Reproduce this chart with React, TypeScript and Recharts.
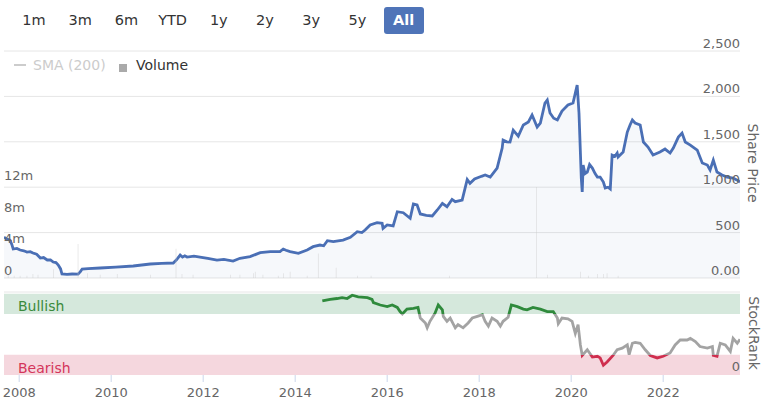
import { ComposedChart, Area, Bar, Line, XAxis, YAxis, CartesianGrid, ReferenceArea, ReferenceLine } from 'recharts';

const FONT = '"DejaVu Sans", Verdana, sans-serif';

// share price (pence), dates as decimal years
const priceDates = [
  2007.67, 2007.72, 2007.8, 2007.84, 2007.87, 2007.95, 2008.02, 2008.1, 2008.17, 2008.24, 2008.3, 2008.38,
  2008.46, 2008.53, 2008.61, 2008.68, 2008.74, 2008.8, 2008.85, 2008.9, 2008.93, 2009.04, 2009.15, 2009.28,
  2009.33, 2009.37, 2009.5, 2009.76, 2010.1, 2010.48, 2010.85, 2011.1, 2011.35, 2011.42, 2011.5, 2011.55,
  2011.6, 2011.65, 2011.8, 2011.93, 2012.1, 2012.3, 2012.45, 2012.65, 2012.8, 2013.02, 2013.24, 2013.46,
  2013.67, 2013.74, 2013.8, 2013.89, 2014.07, 2014.26, 2014.39, 2014.54, 2014.62, 2014.7, 2014.83, 2015.04,
  2015.2, 2015.35, 2015.45, 2015.52, 2015.63, 2015.78, 2015.89, 2015.91, 2016.0, 2016.13, 2016.22, 2016.35,
  2016.5, 2016.57, 2016.65, 2016.72, 2016.85, 2016.98, 2017.09, 2017.2, 2017.3, 2017.41, 2017.48, 2017.63,
  2017.74, 2017.8, 2017.9, 2018.05, 2018.13, 2018.24, 2018.39, 2018.5, 2018.52, 2018.6, 2018.67, 2018.74,
  2018.85, 2018.96, 2019.07, 2019.15, 2019.26, 2019.33, 2019.43, 2019.48, 2019.54, 2019.62, 2019.7, 2019.8,
  2019.93, 2020.04, 2020.09, 2020.13, 2020.17, 2020.22, 2020.24, 2020.26, 2020.3, 2020.35, 2020.4, 2020.46,
  2020.52, 2020.57, 2020.63, 2020.7, 2020.74, 2020.8, 2020.85, 2020.89, 2020.95, 2021.0, 2021.02, 2021.13,
  2021.22, 2021.28, 2021.33, 2021.39, 2021.5, 2021.57, 2021.67, 2021.78, 2021.93, 2022.04, 2022.15, 2022.22,
  2022.33, 2022.41, 2022.48, 2022.59, 2022.74, 2022.85, 2022.96, 2023.02, 2023.09, 2023.17, 2023.28, 2023.39,
  2023.52, 2023.6, 2023.67,
];
const priceValues = [
  451, 430, 418, 370, 319, 325, 308, 300, 286, 290, 275, 262,
  220, 225, 198, 200, 176, 170, 143, 100, 44, 40, 44, 42,
  70, 99, 104, 110, 120, 132, 154, 160, 165, 200, 253, 230,
  245, 231, 240, 231, 215, 198, 205, 187, 217, 235, 279, 290,
  290, 319, 305, 290, 272, 308, 345, 363, 355, 411, 400, 418,
  448, 510, 500, 528, 584, 609, 602, 547, 584, 573, 730, 719,
  657, 815, 804, 705, 690, 683, 749, 822, 785, 866, 840, 859,
  1085, 1043, 1090, 1120, 1134, 1112, 1211, 1431, 1519, 1500, 1497, 1629,
  1563, 1685, 1718, 1795, 1663, 1707, 1927, 1960, 1817, 1760, 1740, 1839,
  1905, 1927, 2037, 2125, 1817, 1100, 947, 1244, 1150, 1167, 1250, 1211,
  1150, 1112, 1112, 1057, 991, 1000, 980, 1354, 1340, 1376, 1332, 1387,
  1607, 1685, 1740, 1707, 1685, 1497, 1442, 1354, 1387, 1420, 1376, 1431,
  1552, 1596, 1497, 1464, 1409, 1266, 1244, 1189, 1299, 1167, 1134, 1112,
  1101, 1080, 1057,
];

// traded volume (millions of shares)
const volumeDates = [
  2007.76, 2007.89, 2008.02, 2008.17, 2008.3, 2008.41, 2008.74, 2009.28, 2009.48, 2009.76, 2010.13, 2010.85,
  2011.41, 2011.54, 2011.78, 2012.59, 2012.8, 2013.09, 2013.13, 2013.3, 2013.63, 2013.74, 2013.89, 2014.26,
  2014.5, 2014.89, 2015.35, 2015.65, 2017.35, 2019.24, 2019.48, 2020.2, 2020.37, 2020.57, 2020.7, 2020.78,
  2021.02,
];
const volumeValues = [
  0.4, 0.3, 0.3, 0.3, 0.5, 0.4, 1.1, 4.3, 0.6, 0.4, 0.5, 0.4,
  3.7, 0.5, 0.4, 0.4, 0.4, 0.6, 0.8, 0.4, 0.3, 0.6, 0.8, 0.3,
  3.1, 1.3, 0.3, 0.3, 0.3, 11.5, 0.4, 0.8, 0.3, 0.5, 0.5, 0.6,
  0.3,
];

// StockRank (0-100)
const rankDates = [
  2014.59, 2014.76, 2014.91, 2015.02, 2015.13, 2015.24, 2015.37, 2015.57, 2015.67, 2015.7, 2015.85, 2016.0,
  2016.11, 2016.22, 2016.28, 2016.33, 2016.43, 2016.57, 2016.67, 2016.72, 2016.83, 2016.87, 2016.93, 2017.04,
  2017.11, 2017.2, 2017.22, 2017.3, 2017.37, 2017.48, 2017.54, 2017.65, 2017.76, 2017.85, 2017.96, 2018.07,
  2018.13, 2018.2, 2018.28, 2018.39, 2018.46, 2018.52, 2018.63, 2018.7, 2018.83, 2018.96, 2019.04, 2019.17,
  2019.33, 2019.48, 2019.61, 2019.7, 2019.72, 2019.8, 2019.93, 2020.02, 2020.09, 2020.15, 2020.2, 2020.24,
  2020.35, 2020.46, 2020.57, 2020.63, 2020.7, 2020.78, 2020.91, 2021.0, 2021.11, 2021.22, 2021.26, 2021.33,
  2021.39, 2021.5, 2021.61, 2021.72, 2021.87, 2022.0, 2022.15, 2022.26, 2022.37, 2022.52, 2022.59, 2022.7,
  2022.8, 2022.96, 2023.07, 2023.09, 2023.17, 2023.24, 2023.35, 2023.46, 2023.52, 2023.61, 2023.67,
];
const rankValues = [
  91, 93, 94, 95, 94, 98, 96, 95, 93, 89, 86, 84,
  86, 83, 78, 75, 81, 82, 83, 70, 64, 58, 66, 76,
  86, 80, 72, 66, 70, 58, 62, 58, 64, 70, 72, 74,
  66, 60, 70, 66, 60, 66, 71, 86, 84, 81, 80, 83,
  81, 78, 78, 70, 63, 70, 69, 66, 51, 62, 37, 24,
  31, 22, 23, 21, 12, 16, 24, 31, 33, 37, 25, 39,
  40, 39, 31, 24, 21, 23, 27, 37, 43, 43, 45, 41,
  35, 33, 35, 24, 23, 39, 37, 29, 45, 39, 44,
];

const yearTicks = [2008, 2010, 2012, 2014, 2016, 2018, 2020, 2022];
const priceTicks = [0, 500, 1000, 1500, 2000, 2500];
const volumeTicks = [0, 4, 8, 12];
const rankTicks = [0];
const rangeButtons = ['1m', '3m', '6m', 'YTD', '1y', '2y', '3y', '5y', 'All'];
const bullishBand = [75, 100];
const bearishBand = [0, 25];

const X_DOMAIN = [2007.67, 2023.67];
const W = 764;
const PLOT_LEFT = 4;
const PLOT_RIGHT = 740;

// top panel geometry
const TOP_MARGIN = 51;
const TOP_H = 282;
// bottom panel geometry
const RANK_Y = 284;
const RANK_TOP = 8;
const RANK_PLOT_H = 83;
const RANK_AXIS_H = 23;
const RANK_MAX = 102;

const priceRows = priceDates.map((t, i) => ({ t, price: priceValues[i] }));
const volumeRows = volumeDates.map((t, i) => ({ t, volume: volumeValues[i] }));
const topData = [...priceRows, ...volumeRows].sort((a, b) => a.t - b.t);
const rankData = rankDates.map((t, i) => ({ t, rank: rankValues[i] }));

const GREEN = '#2f8a3c';
const GREY = '#a3a3a3';
const RED = '#cf2e4e';

function PriceTick({ y, payload }: any) {
  const label = payload.value === 0 ? '0.00' : payload.value.toLocaleString('en-US');
  return (
    <text x={PLOT_RIGHT} y={y - 3} textAnchor="end" fill="#666" fontSize={13} fontFamily={FONT}>
      {label}
    </text>
  );
}

function VolumeTick({ y, payload }: any) {
  const label = payload.value === 0 ? '0' : `${payload.value}m`;
  return (
    <text x={PLOT_LEFT} y={y - 3} textAnchor="start" fill="#666" fontSize={13} fontFamily={FONT}>
      {label}
    </text>
  );
}

function RankTick({ y, payload }: any) {
  return (
    <text x={PLOT_RIGHT} y={y - 4} textAnchor="end" fill="#666" fontSize={13} fontFamily={FONT}>
      {payload.value}
    </text>
  );
}

function YearTick({ x, payload }: any) {
  return (
    <text x={x} y={RANK_TOP + RANK_PLOT_H + 21.5} textAnchor="middle" fill="#666" fontSize={13} fontFamily={FONT}>
      {payload.value}
    </text>
  );
}

const bandLabel = (text: string, color: string) => (props: any) => {
  const vb = props.viewBox;
  return (
    <text x={vb.x + 14} y={vb.y + vb.height - 2.5} fill={color} fontSize={14} fontFamily={FONT}>
      {text}
    </text>
  );
};

export default function App() {
  const offBull = (RANK_MAX - bullishBand[0]) / RANK_MAX;
  const offBear = (RANK_MAX - bearishBand[1]) / RANK_MAX;

  return (
    <div style={{ position: 'absolute', left: 0, top: 0, width: W, height: 398, background: '#fff', fontFamily: FONT }}>
      {/* range selector */}
      {rangeButtons.map((b, i) => {
        const active = b === 'All';
        return (
          <div
            key={b}
            style={{
              position: 'absolute',
              left: 14 + i * 46.2,
              top: 7,
              width: 40,
              height: 27,
              lineHeight: '27px',
              textAlign: 'center',
              fontSize: 14.5,
              color: active ? '#fff' : '#333',
              background: active ? '#4f74b8' : 'transparent',
              fontWeight: active ? 'bold' : 'normal',
              borderRadius: 3,
            }}
          >
            {b}
          </div>
        );
      })}

      {/* legend */}
      <div style={{ position: 'absolute', left: 14, top: 64, width: 12, height: 2, background: '#ccc' }} />
      <div style={{ position: 'absolute', left: 33, top: 56, fontSize: 14, color: '#ccc', lineHeight: '18px' }}>SMA (200)</div>
      <div style={{ position: 'absolute', left: 119, top: 64, width: 8, height: 8, background: '#aaa' }} />
      <div style={{ position: 'absolute', left: 136, top: 56, fontSize: 14, color: '#333', lineHeight: '18px' }}>Volume</div>

      {/* price + volume */}
      <div style={{ position: 'absolute', left: 0, top: 0 }}>
        <ComposedChart
          width={W}
          height={TOP_H}
          data={topData}
          margin={{ top: TOP_MARGIN, right: W - PLOT_RIGHT, bottom: TOP_H - 278, left: PLOT_LEFT }}
        >
          <CartesianGrid yAxisId="price" vertical={false} stroke="#e6e6e6" />
          <XAxis dataKey="t" type="number" domain={X_DOMAIN} allowDataOverflow hide />
          <YAxis
            yAxisId="price"
            orientation="right"
            mirror
            domain={[0, 2500]}
            ticks={priceTicks}
            interval={0}
            axisLine={false}
            tickLine={false}
            tick={<PriceTick />}
          />
          <YAxis
            yAxisId="volume"
            orientation="left"
            mirror
            domain={[0, 28.7]}
            ticks={volumeTicks}
            interval={0}
            axisLine={false}
            tickLine={false}
            tick={<VolumeTick />}
          />
          <Bar yAxisId="volume" dataKey="volume" fill="#cccccc" barSize={2} isAnimationActive={false} />
          <Area
            yAxisId="price"
            dataKey="price"
            type="linear"
            stroke="#4a6fb5"
            strokeWidth={2.8}
            fill="#4a6fb5"
            fillOpacity={0.05}
            connectNulls
            dot={false}
            activeDot={false}
            isAnimationActive={false}
          />
        </ComposedChart>
      </div>

      {/* StockRank */}
      <div style={{ position: 'absolute', left: 0, top: RANK_Y }}>
        <ComposedChart
          width={W}
          height={RANK_TOP + RANK_PLOT_H + RANK_AXIS_H}
          data={rankData}
          margin={{ top: RANK_TOP, right: W - PLOT_RIGHT, bottom: 0, left: PLOT_LEFT }}
        >
          <defs>
            <linearGradient
              id="rankStroke"
              gradientUnits="userSpaceOnUse"
              x1={0}
              y1={RANK_TOP}
              x2={0}
              y2={RANK_TOP + RANK_PLOT_H}
            >
              <stop offset={0} stopColor={GREEN} />
              <stop offset={offBull} stopColor={GREEN} />
              <stop offset={offBull} stopColor={GREY} />
              <stop offset={offBear} stopColor={GREY} />
              <stop offset={offBear} stopColor={RED} />
              <stop offset={1} stopColor={RED} />
            </linearGradient>
          </defs>
          <XAxis
            dataKey="t"
            type="number"
            domain={X_DOMAIN}
            allowDataOverflow
            ticks={yearTicks}
            interval={0}
            height={RANK_AXIS_H}
            axisLine={false}
            tickLine={{ stroke: '#ccd6eb' }}
            tickSize={7}
            tick={<YearTick />}
          />
          <YAxis
            yAxisId="rank"
            orientation="right"
            mirror
            domain={[0, RANK_MAX]}
            ticks={rankTicks}
            interval={0}
            axisLine={false}
            tickLine={false}
            tick={<RankTick />}
          />
          <ReferenceLine yAxisId="rank" y={RANK_MAX} stroke="#e6e6e6" />
          <ReferenceArea
            yAxisId="rank"
            y1={bullishBand[0]}
            y2={bullishBand[1]}
            fill="#d5e8dc"
            fillOpacity={1}
            label={bandLabel('Bullish', '#3b8a3b')}
          />
          <ReferenceArea
            yAxisId="rank"
            y1={bearishBand[0]}
            y2={bearishBand[1]}
            fill="#f5d7de"
            fillOpacity={1}
            label={bandLabel('Bearish', '#d4355a')}
          />
          <Line
            yAxisId="rank"
            dataKey="rank"
            type="linear"
            stroke="url(#rankStroke)"
            strokeWidth={2.8}
            dot={false}
            activeDot={false}
            isAnimationActive={false}
          />
        </ComposedChart>
      </div>

      {/* axis titles */}
      <svg width={W} height={398} style={{ position: 'absolute', left: 0, top: 0, pointerEvents: 'none' }}>
        <text
          transform="translate(753,163) rotate(90)"
          textAnchor="middle"
          dominantBaseline="central"
          fill="#666"
          fontSize={14}
          fontFamily={FONT}
        >
          Share Price
        </text>
        <text
          transform="translate(754,333) rotate(90)"
          textAnchor="middle"
          dominantBaseline="central"
          fill="#666"
          fontSize={14}
          fontFamily={FONT}
        >
          StockRank
        </text>
      </svg>
    </div>
  );
}
